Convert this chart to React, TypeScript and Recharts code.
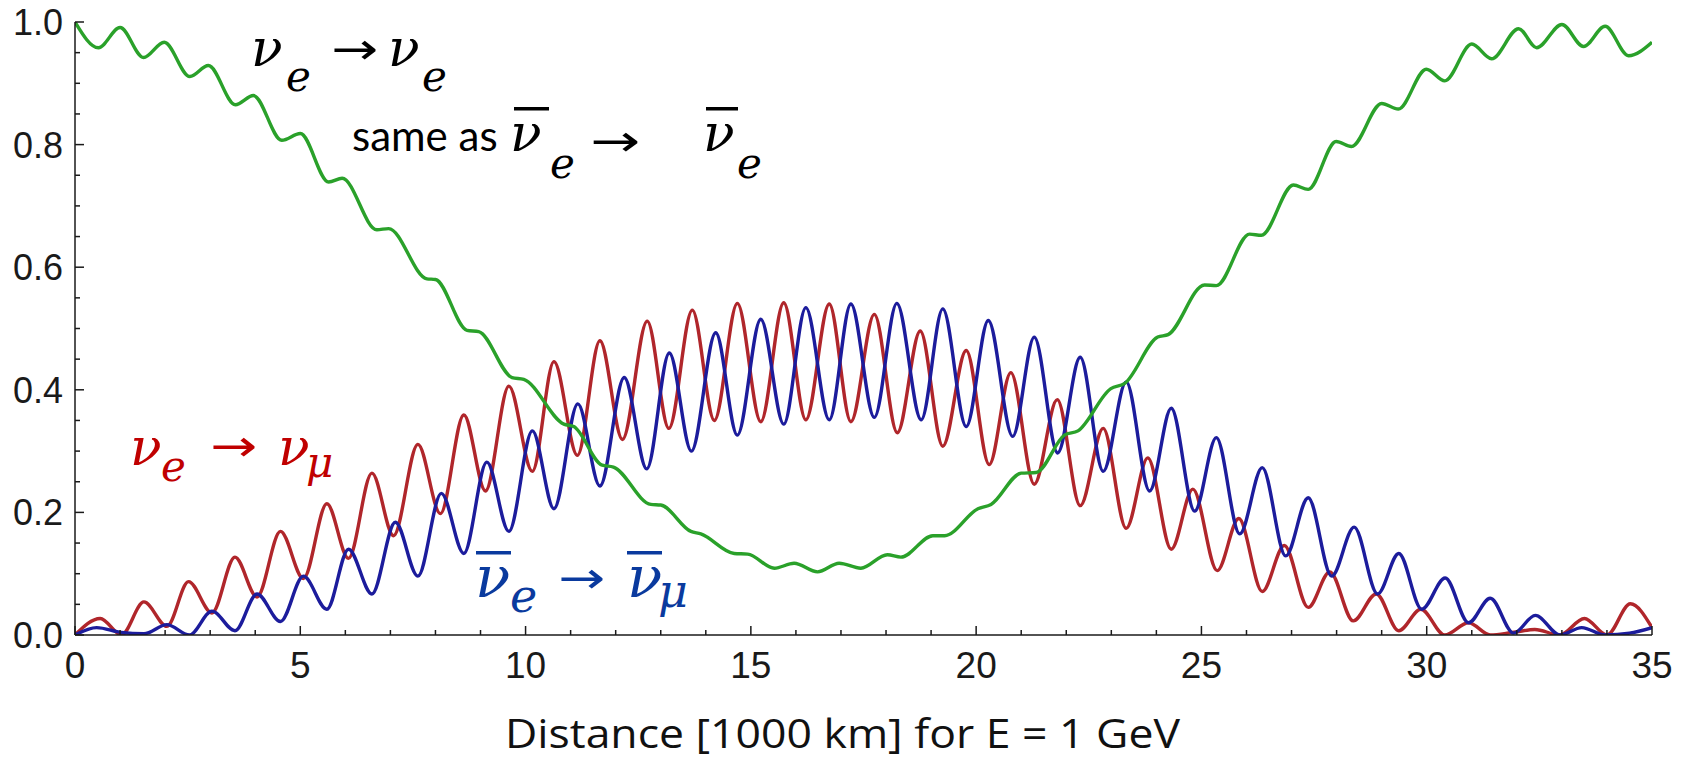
import { LineChart, Line, XAxis, YAxis } from 'recharts';

// [distance (1000 km), probability] read at the peaks and troughs of each curve
const redPts: [number, number][] = [
  [0, 0], [0.56, 0.027], [1.03, 0.0], [1.53, 0.054], [2.04, 0.014], [2.52, 0.087],
  [3.04, 0.036], [3.55, 0.127], [4.04, 0.062], [4.56, 0.169], [5.07, 0.092], [5.59, 0.214],
  [6.07, 0.125], [6.59, 0.264], [7.07, 0.162], [7.61, 0.311], [8.11, 0.198], [8.63, 0.359],
  [9.11, 0.235], [9.63, 0.406], [10.15, 0.267], [10.63, 0.446], [11.15, 0.293], [11.65, 0.48],
  [12.15, 0.319], [12.7, 0.512], [13.18, 0.337], [13.7, 0.53], [14.19, 0.35], [14.7, 0.541],
  [15.22, 0.348], [15.73, 0.542], [16.22, 0.351], [16.74, 0.54], [17.22, 0.348], [17.74, 0.523],
  [18.25, 0.33], [18.76, 0.496], [19.26, 0.308], [19.78, 0.464], [20.29, 0.278], [20.77, 0.428],
  [21.29, 0.246], [21.8, 0.384], [22.31, 0.211], [22.82, 0.337], [23.33, 0.174], [23.81, 0.289],
  [24.33, 0.14], [24.81, 0.238], [25.35, 0.105], [25.83, 0.19], [26.35, 0.071], [26.84, 0.146],
  [27.37, 0.045], [27.85, 0.103], [28.37, 0.023], [28.88, 0.067], [29.38, 0.007], [29.87, 0.042],
  [30.4, 0.0], [30.93, 0.02], [31.41, 0.0], [31.9, 0.004], [32.4, 0.009], [32.95, 0.0],
  [33.5, 0.027], [34.0, 0.0], [34.52, 0.051], [35, 0.012],
];

const bluePts: [number, number][] = [
  [0, 0], [0.48, 0.012], [1.03, 0.004], [1.53, 0.002], [2.04, 0.017], [2.54, 0.0],
  [3.04, 0.039], [3.55, 0.007], [4.04, 0.067], [4.56, 0.022], [5.07, 0.096], [5.59, 0.042],
  [6.07, 0.14], [6.59, 0.067], [7.11, 0.184], [7.61, 0.096], [8.13, 0.231], [8.63, 0.133],
  [9.14, 0.282], [9.63, 0.169], [10.15, 0.333], [10.63, 0.206], [11.16, 0.377], [11.65, 0.243],
  [12.19, 0.42], [12.69, 0.271], [13.19, 0.46], [13.68, 0.3], [14.22, 0.493], [14.7, 0.326],
  [15.22, 0.515], [15.73, 0.344], [16.22, 0.534], [16.74, 0.351], [17.22, 0.54], [17.74, 0.355],
  [18.24, 0.541], [18.78, 0.351], [19.26, 0.532], [19.78, 0.34], [20.27, 0.513], [20.81, 0.324],
  [21.29, 0.486], [21.81, 0.297], [22.31, 0.453], [22.82, 0.267], [23.33, 0.413], [23.85, 0.235],
  [24.33, 0.37], [24.85, 0.202], [25.33, 0.322], [25.85, 0.165], [26.35, 0.273], [26.87, 0.129],
  [27.37, 0.224], [27.89, 0.096], [28.39, 0.176], [28.91, 0.067], [29.38, 0.133], [29.89, 0.042],
  [30.41, 0.093], [30.93, 0.02], [31.41, 0.06], [31.93, 0.003], [32.41, 0.032], [32.96, 0.0],
  [33.44, 0.012], [33.96, 0.0], [34.5, 0.003], [35, 0.012],
];

const greenPts: [number, number][] = [
  [0, 1.0], [0.52, 0.958], [1.0, 0.991], [1.52, 0.942], [1.98, 0.967], [2.55, 0.911],
  [2.96, 0.929], [3.56, 0.865], [3.96, 0.88], [4.59, 0.807], [5.0, 0.818], [5.63, 0.739],
  [5.93, 0.745], [6.7, 0.661], [6.96, 0.663], [7.81, 0.581], [8.0, 0.58], [8.7, 0.497],
  [8.96, 0.495], [9.7, 0.42], [9.96, 0.417], [10.85, 0.344], [11.07, 0.34], [11.7, 0.277],
  [11.95, 0.274], [12.78, 0.213], [13.0, 0.212], [13.67, 0.169], [13.89, 0.165], [14.63, 0.133],
  [14.93, 0.132], [15.52, 0.109], [15.96, 0.117], [16.48, 0.103], [16.96, 0.117], [17.44, 0.109],
  [18.03, 0.131], [18.33, 0.127], [19.04, 0.162], [19.3, 0.162], [20.04, 0.206], [20.33, 0.213],
  [21.0, 0.264], [21.33, 0.265], [21.96, 0.326], [22.26, 0.333], [22.99, 0.402], [23.29, 0.41],
  [24.03, 0.486], [24.26, 0.49], [25.07, 0.571], [25.33, 0.57], [26.07, 0.654], [26.33, 0.652],
  [27.04, 0.734], [27.37, 0.727], [27.99, 0.805], [28.33, 0.797], [29.0, 0.867], [29.37, 0.858],
  [29.99, 0.923], [30.4, 0.904], [31.0, 0.964], [31.44, 0.94], [32.04, 0.989], [32.44, 0.958],
  [33.0, 0.996], [33.48, 0.96], [33.96, 0.993], [34.48, 0.945], [35, 0.967],
];

const xTicks = [
  0, 1, 2, 3, 4, 5, 6, 7, 8, 9, 10, 11, 12, 13, 14, 15, 16, 17,
  18, 19, 20, 21, 22, 23, 24, 25, 26, 27, 28, 29, 30, 31, 32, 33, 34, 35,
];
const xMajor = [0, 5, 10, 15, 20, 25, 30, 35];
const yTicks = [
  0, 0.05, 0.1, 0.15, 0.2, 0.25, 0.3, 0.35, 0.4, 0.45, 0.5,
  0.55, 0.6, 0.65, 0.7, 0.75, 0.8, 0.85, 0.9, 0.95, 1.0,
];
const yMajor = [0, 0.2, 0.4, 0.6, 0.8, 1.0];

const toData = (pts: [number, number][]) => pts.map(([x, y]) => ({ x, y }));

const AXIS = '#1a1a1a';
const TICK_FONT = '"Liberation Sans", Arial, sans-serif';
const MATH_FONT = '"DejaVu Serif", serif';

const XTick = ({ x, y, payload }: any) => {
  const major = xMajor.includes(payload.value);
  return (
    <g>
      <line x1={x} x2={x} y1={y} y2={y - (major ? 9 : 5)} stroke={AXIS} strokeWidth={1.5} />
      {major && (
        <text x={x} y={y + 43} textAnchor="middle" fontFamily={TICK_FONT} fontSize={37} fill={AXIS}>
          {payload.value}
        </text>
      )}
    </g>
  );
};

const YTick = ({ x, y, payload }: any) => {
  const major = yMajor.some((m) => Math.abs(m - payload.value) < 1e-6);
  return (
    <g>
      <line x1={x} x2={x + (major ? 9 : 5)} y1={y} y2={y} stroke={AXIS} strokeWidth={1.5} />
      {major && (
        <text x={x - 12} y={y} dy="0.36em" textAnchor="end" fontFamily={TICK_FONT} fontSize={36} fill={AXIS}>
          {payload.value.toFixed(1)}
        </text>
      )}
    </g>
  );
};

interface NuProps {
  x: number;
  y: number;
  size: number;
  sub: string;
  subX: number;
  subY: number;
  subSize: number;
  color: string;
  barX?: number;
  barY?: number;
  barW?: number;
}

function Nu({ x, y, size, sub, subX, subY, subSize, color, barX, barY, barW }: NuProps) {
  return (
    <g fill={color}>
      {barY !== undefined && <rect x={barX} y={barY} width={barW} height={3.5} />}
      <text x={x} y={y} fontFamily={MATH_FONT} fontStyle="italic" fontSize={size}>
        ν
        <tspan x={subX} y={subY} fontSize={subSize}>{sub}</tspan>
      </text>
    </g>
  );
}

function Arrow({ x, mid, w, size, color }: { x: number; mid: number; w: number; size: number; color: string }) {
  return (
    <text
      x={x}
      y={mid + size * 0.3}
      fontFamily='"DejaVu Sans", sans-serif'
      fontSize={size}
      fill={color}
      textLength={w}
      lengthAdjust="spacingAndGlyphs"
    >
      →
    </text>
  );
}

export default function App() {
  const black = '#000000';
  const red = '#c00000';
  const blue = '#0a3a9e';
  return (
    <div style={{ position: 'absolute', left: 0, top: 0, width: 1689, height: 759, background: '#fff' }}>
      <LineChart width={1689} height={759} margin={{ top: 22, right: 37, bottom: 0, left: 0 }}>
        <XAxis
          dataKey="x"
          type="number"
          domain={[0, 35]}
          ticks={xTicks}
          interval={0}
          height={124}
          tickSize={0}
          tickMargin={0}
          tickLine={false}
          tick={<XTick />}
          axisLine={{ stroke: AXIS, strokeWidth: 1.5 }}
          allowDataOverflow
        />
        <YAxis
          type="number"
          domain={[0, 1]}
          ticks={yTicks}
          interval={0}
          width={75}
          tickSize={0}
          tickMargin={0}
          tickLine={false}
          tick={<YTick />}
          axisLine={{ stroke: AXIS, strokeWidth: 1.5 }}
          allowDataOverflow
        />
        <Line data={toData(redPts)} dataKey="y" type="monotone" stroke="#b0262b" strokeWidth={3.4} dot={false} isAnimationActive={false} />
        <Line data={toData(bluePts)} dataKey="y" type="monotone" stroke="#1c1c9c" strokeWidth={3.4} dot={false} isAnimationActive={false} />
        <Line data={toData(greenPts)} dataKey="y" type="monotone" stroke="#2aa12a" strokeWidth={3.4} dot={false} isAnimationActive={false} />
      </LineChart>

      <svg width={1689} height={759} style={{ position: 'absolute', left: 0, top: 0, pointerEvents: 'none' }}>
        {/* nu_e -> nu_e */}
        <Nu x={251} y={66} size={52} sub="e" subX={286} subY={91} subSize={42} color={black} />
        <Arrow x={331} mid={51} w={47} size={44} color={black} />
        <Nu x={388} y={66} size={52} sub="e" subX={422} subY={91} subSize={42} color={black} />

        {/* same as anti-nu_e -> anti-nu_e */}
        <text x={352} y={151} fontFamily='Lato, "Open Sans", sans-serif' fontSize={42} fill={black}>
          same as
        </text>
        <Nu x={510} y={151} size={52} sub="e" subX={550} subY={178} subSize={42} color={black} barX={514} barY={107} barW={35} />
        <Arrow x={590} mid={143} w={50} size={44} color={black} />
        <Nu x={703} y={151} size={52} sub="e" subX={737} subY={178} subSize={42} color={black} barX={706} barY={107} barW={32} />

        {/* nu_e -> nu_mu */}
        <Nu x={130} y={465} size={52} sub="e" subX={161} subY={481} subSize={42} color={red} />
        <Arrow x={210} mid={448} w={47} size={44} color={red} />
        <Nu x={278} y={465} size={52} sub="μ" subX={306} subY={477} subSize={42} color={red} />

        {/* anti-nu_e -> anti-nu_mu */}
        <Nu x={475} y={597} size={58} sub="e" subX={510} subY={612} subSize={46} color={blue} barX={476} barY={551} barW={35} />
        <Arrow x={558} mid={580} w={47} size={44} color={blue} />
        <Nu x={627} y={597} size={58} sub="μ" subX={658} subY={607} subSize={46} color={blue} barX={627} barY={551} barW={35} />

        <text
          x={505}
          y={748}
          fontFamily='"Open Sans", sans-serif'
          fontSize={40}
          fill="#111"
          textLength={675}
          lengthAdjust="spacingAndGlyphs"
        >
          Distance [1000 km] for  E = 1 GeV
        </text>
      </svg>
    </div>
  );
}
